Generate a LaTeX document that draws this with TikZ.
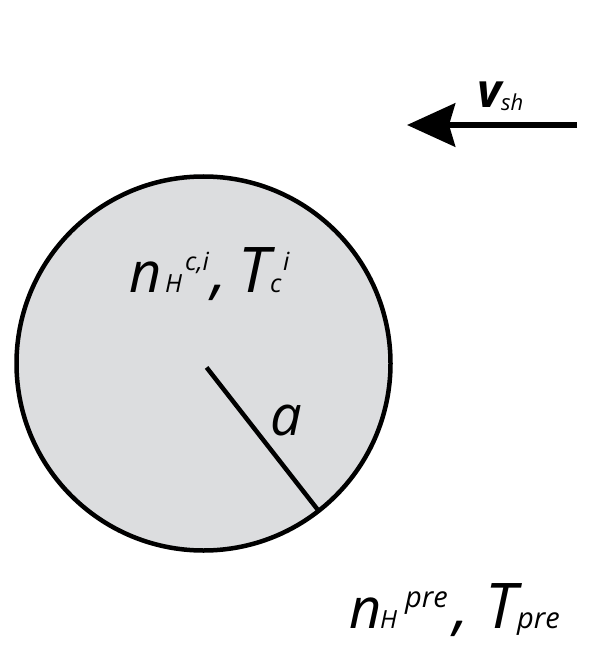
\documentclass[tikz,border=0pt]{standalone}
\usepackage{fontspec}
\setmainfont{Open Sans}
\usetikzlibrary{arrows.meta}
\definecolor{blobgray}{RGB}{220,221,223}
\newcommand\bigsz{\fontsize{56}{60}\selectfont}
\newcommand\capsz{\fontsize{63}{68}\selectfont}
\newcommand\smsz{\fontsize{25}{27}\selectfont}
\newcommand\presz{\fontsize{29}{31}\selectfont}
\newcommand\slot[2]{\makebox[#1][l]{#2}}
\begin{document}
\begin{tikzpicture}[x=1pt,y=-1pt,
  lbl/.style={inner sep=0pt, anchor=base west, font=\itshape}]
\useasboundingbox (0,0) rectangle (610,652);
\node[draw, circle, line width=4.5pt, fill=blobgray, minimum size=374pt, inner sep=0pt] (cl) at (203.5,363.5) {};
\coordinate (tl) at (577,125);
\coordinate (hd) at (407,125);
\draw[line width=4.5pt, shorten <=5pt, shorten >=4pt] (cl.center) -- (cl.-52);
\draw[line width=6.5pt, -{Stealth[length=48pt, width=43pt, inset=6pt]}] (tl) -- (hd);
\node[lbl] (v) at (477,108) {\slot{24pt}{\fontsize{47}{50}\selectfont\bfseries v}{\fontsize{22}{24}\selectfont\raisebox{-3pt}{sh}}};
\node[lbl] (a) at (270,435) {\fontsize{56}{60}\selectfont a};
\node[lbl] (in) at (129,292) {\slot{36pt}{\bigsz n}\slot{20pt}{\smsz H}\slot{26pt}{\smsz\raisebox{22pt}{c,i}}\slot{27pt}{\capsz,}\slot{32pt}{\capsz T}\slot{13pt}{\smsz c}\smsz\raisebox{22pt}{i}};
\node[lbl] (out) at (349,628) {\slot{31pt}{\bigsz n}\slot{25pt}{\smsz H}\slot{48pt}{\presz\raisebox{21pt}{pre}}\slot{32pt}{\capsz,}\slot{32pt}{\capsz T}\presz pre};
\end{tikzpicture}
\end{document}
